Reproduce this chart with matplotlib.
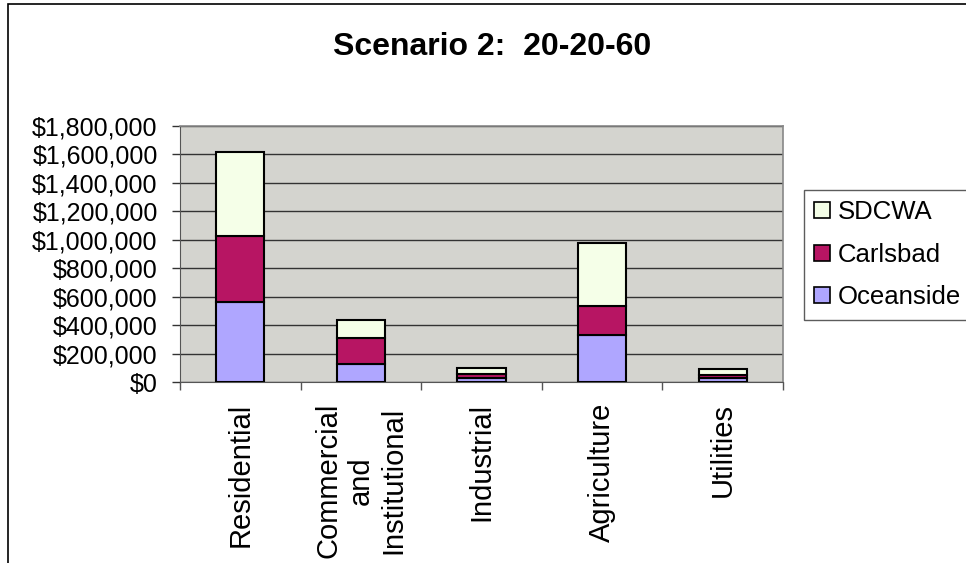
import matplotlib
matplotlib.use("Agg")
import matplotlib.pyplot as plt
from matplotlib.patches import Rectangle
from matplotlib.ticker import FuncFormatter, MultipleLocator
import numpy as np

plt.rcParams['font.family'] = ['Liberation Sans', 'DejaVu Sans']

categories = ["Residential", "Commercial\nand\nInstitutional", "Industrial",
              "Agriculture", "Utilities"]
oceanside = [560000, 127000, 28000, 333000, 26000]
carlsbad = [464000, 180000, 26000, 199000, 26000]
sdcwa = [591000, 127000, 44000, 441000, 37000]

series_names = ["Oceanside", "Carlsbad", "SDCWA"]
series_colors = ["#AFA6FF", "#B71563", "#F5FFE8"]

fig = plt.figure(figsize=(9.66, 5.63), dpi=100)

# outer chart frame (open on right and bottom)
fig.add_artist(Rectangle((8 / 966, -0.05), 1.1, 1 - 4 / 563 + 0.05,
                         transform=fig.transFigure, fill=False,
                         edgecolor="black", linewidth=1.2))

ax = fig.add_axes([180 / 966, 1 - 382 / 563, (783 - 180) / 966, (382 - 125.7) / 563])
ax.set_facecolor("#D4D4CF")

x = np.arange(len(categories))
bottom = np.zeros(len(categories))
handles = []
for name, vals, col in zip(series_names, [oceanside, carlsbad, sdcwa], series_colors):
    b = ax.bar(x, vals, width=0.4, bottom=bottom, color=col, edgecolor="black",
               linewidth=1.5, label=name, zorder=3)
    handles.append(b)
    bottom += np.array(vals)

ax.set_xlim(-0.5, len(categories) - 0.5)
ax.set_ylim(0, 1800000)
ax.yaxis.set_major_locator(MultipleLocator(200000))
ax.yaxis.set_major_formatter(FuncFormatter(lambda v, p: "${:,.0f}".format(v)))
ax.grid(axis="y", color="#333333", linewidth=1.0, zorder=1)

ax.set_xticks(x)
ax.set_xticklabels(categories, rotation=90, ha="center", va="top",
                   multialignment="center", fontsize=21)
ax.tick_params(axis="x", length=0, pad=15)
ax.set_xticks(np.arange(-0.5, len(categories)), minor=True)
ax.tick_params(axis="x", which="minor", length=6, width=1, color="#555555")
ax.tick_params(axis="y", labelsize=18, length=6, width=1, pad=10, color="#333333")

for s in ["top", "right"]:
    ax.spines[s].set_color("#888888")
    ax.spines[s].set_linewidth(1.2)
ax.spines["left"].set_color("#555555")
ax.spines["bottom"].set_color("#555555")

fig.text(492 / 966, 1 - 47 / 563, "Scenario 2:  20-20-60", ha="center", va="center",
         fontsize=23, fontweight="bold")

leg = fig.legend(handles[::-1], series_names[::-1], loc="upper left",
                 bbox_to_anchor=(804 / 966, 1 - 190 / 563), fontsize=18.5,
                 frameon=True, fancybox=False, edgecolor="#333333",
                 handlelength=0.6, handleheight=0.6, handletextpad=0.3,
                 labelspacing=0.72, borderpad=0.4, borderaxespad=0)
leg.get_frame().set_linewidth(1.0)
for h in leg.legend_handles:
    h.set_linewidth(1.2)

fig.savefig("out.png", dpi=100)
